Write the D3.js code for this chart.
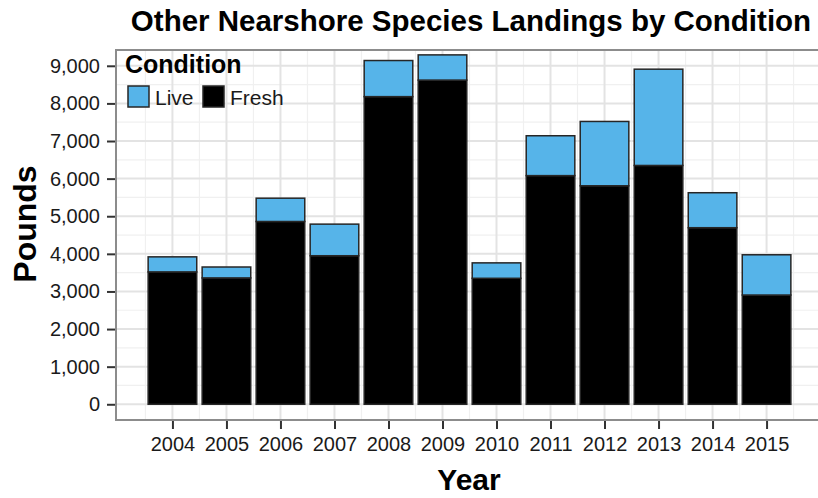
<!DOCTYPE html>
<html>
<head>
<meta charset="utf-8">
<script src="https://cdn.jsdelivr.net/npm/d3@7"></script>
<style>
    body { margin: 0; background: #fff; }
    svg { display: block; font-family: "Liberation Sans", Arial, sans-serif; }
</style>
</head>
<body>
<svg id="chart" width="818" height="498"></svg>
<script>

// data
var years = [2004, 2005, 2006, 2007, 2008, 2009, 2010, 2011, 2012, 2013, 2014, 2015];
var fresh = [3520, 3360, 4860, 3950, 8180, 8620, 3350, 6080, 5810, 6350, 4695, 2905];
var live  = [ 400,  290,  620,  840,  960,  670,  410, 1060, 1710, 2560,  930, 1070];
var yTicks = [0, 1000, 2000, 3000, 4000, 5000, 6000, 7000, 8000, 9000];
var conditions = ["Fresh", "Live"];
var legendOrder = ["Live", "Fresh"];
var colors = { "Live": "#56B4E9", "Fresh": "#000000" };

var draw = {

    panel: { left: 116, right: 823, top: 50, bottom: 420 },

    index: function () {
        var rows = years.map(function (yr, i) {
            return { year: yr, Fresh: fresh[i], Live: live[i] };
        });
        draw.chart(rows);
    },

    chart: function (rows) {
        var p = draw.panel;
        var svg = d3.select("#chart");

        // continuous year scale with ggplot style expansion
        var x = d3.scaleLinear()
            .domain([2002.955, 2016.045])
            .range([p.left, p.right]);
        var y = d3.scaleLinear()
            .domain([-418, 9420])
            .range([p.bottom, p.top]);

        svg.append("clipPath").attr("id", "panelclip")
            .append("rect")
            .attr("x", p.left).attr("y", p.top)
            .attr("width", p.right - p.left).attr("height", p.bottom - p.top);

        var panel = svg.append("g").attr("clip-path", "url(#panelclip)");

        // minor grid
        var minorY = d3.range(500, 9000, 1000);
        var minorX = years.map(function (d) { return d - 0.5; }).concat([2015.5]);
        panel.selectAll(".minorY").data(minorY).enter().append("line")
            .attr("x1", p.left).attr("x2", p.right)
            .attr("y1", function (d) { return y(d); }).attr("y2", function (d) { return y(d); })
            .attr("stroke", "#f0f0f0").attr("stroke-width", 1.2);
        panel.selectAll(".minorX").data(minorX).enter().append("line")
            .attr("y1", p.top).attr("y2", p.bottom)
            .attr("x1", function (d) { return x(d); }).attr("x2", function (d) { return x(d); })
            .attr("stroke", "#f0f0f0").attr("stroke-width", 1.2);

        // major grid
        panel.selectAll(".majorY").data(yTicks).enter().append("line")
            .attr("x1", p.left).attr("x2", p.right)
            .attr("y1", function (d) { return y(d); }).attr("y2", function (d) { return y(d); })
            .attr("stroke", "#e3e3e3").attr("stroke-width", 2);
        panel.selectAll(".majorX").data(years).enter().append("line")
            .attr("y1", p.top).attr("y2", p.bottom)
            .attr("x1", function (d) { return x(d); }).attr("x2", function (d) { return x(d); })
            .attr("stroke", "#e3e3e3").attr("stroke-width", 2);

        // stacked bars, Fresh at the bottom
        var stack = d3.stack().keys(conditions)(rows);
        panel.selectAll(".layer").data(stack).enter().append("g")
            .attr("fill", function (d) { return colors[d.key]; })
            .selectAll("rect")
            .data(function (d) { return d; })
            .enter().append("rect")
            .attr("x", function (d) { return x(d.data.year - 0.45); })
            .attr("width", function (d) { return x(d.data.year + 0.45) - x(d.data.year - 0.45); })
            .attr("y", function (d) { return y(d[1]); })
            .attr("height", function (d) { return y(d[0]) - y(d[1]); })
            .attr("stroke", "#262626")
            .attr("stroke-width", 1.5);

        // panel border
        svg.append("rect")
            .attr("x", p.left).attr("y", p.top)
            .attr("width", p.right - p.left).attr("height", p.bottom - p.top)
            .attr("fill", "none").attr("stroke", "#8c8c8c").attr("stroke-width", 2);

        // axes
        var yAxis = svg.append("g")
            .attr("transform", "translate(" + (p.left - 1) + ",0)")
            .call(d3.axisLeft(y).tickValues(yTicks).tickFormat(d3.format(",")).tickSize(8).tickPadding(7).tickSizeOuter(0));
        var xAxis = svg.append("g")
            .attr("transform", "translate(0," + (p.bottom + 1) + ")")
            .call(d3.axisBottom(x).tickValues(years).tickFormat(d3.format("d")).tickSize(8).tickPadding(8).tickSizeOuter(0));

        [yAxis, xAxis].forEach(function (a) {
            a.select(".domain").remove();
            a.selectAll(".tick line").attr("stroke", "#333").attr("stroke-width", 2);
            a.selectAll(".tick text")
                .attr("fill", "#1a1a1a")
                .style("font-size", "20px");
        });

        // titles
        svg.append("text")
            .attr("x", 471).attr("y", 31)
            .attr("text-anchor", "middle")
            .style("font-size", "29.5px").style("font-weight", "bold")
            .text("Other Nearshore Species Landings by Condition");

        svg.append("text")
            .attr("x", 469).attr("y", 490)
            .attr("text-anchor", "middle")
            .style("font-size", "30px").style("font-weight", "bold")
            .text("Year");

        svg.append("text")
            .attr("transform", "translate(36,224) rotate(-90)")
            .attr("text-anchor", "middle")
            .style("font-size", "32px").style("font-weight", "bold")
            .text("Pounds");

        // legend
        var legend = svg.append("g");
        legend.append("text")
            .attr("x", 125).attr("y", 73)
            .style("font-size", "25px").style("font-weight", "bold")
            .text("Condition");

        var keyX = [128, 203];
        var keys = legend.selectAll(".key").data(legendOrder).enter().append("g")
            .attr("transform", function (d, i) { return "translate(" + keyX[i] + ",86)"; });
        keys.append("rect")
            .attr("width", 21).attr("height", 21)
            .attr("fill", function (d) { return colors[d]; })
            .attr("stroke", "#262626").attr("stroke-width", 1.5);
        keys.append("text")
            .attr("x", 27).attr("y", 19)
            .style("font-size", "21px")
            .attr("fill", "#1a1a1a")
            .text(function (d) { return d; });
    }
};

draw.index();
</script>
</body>
</html>
